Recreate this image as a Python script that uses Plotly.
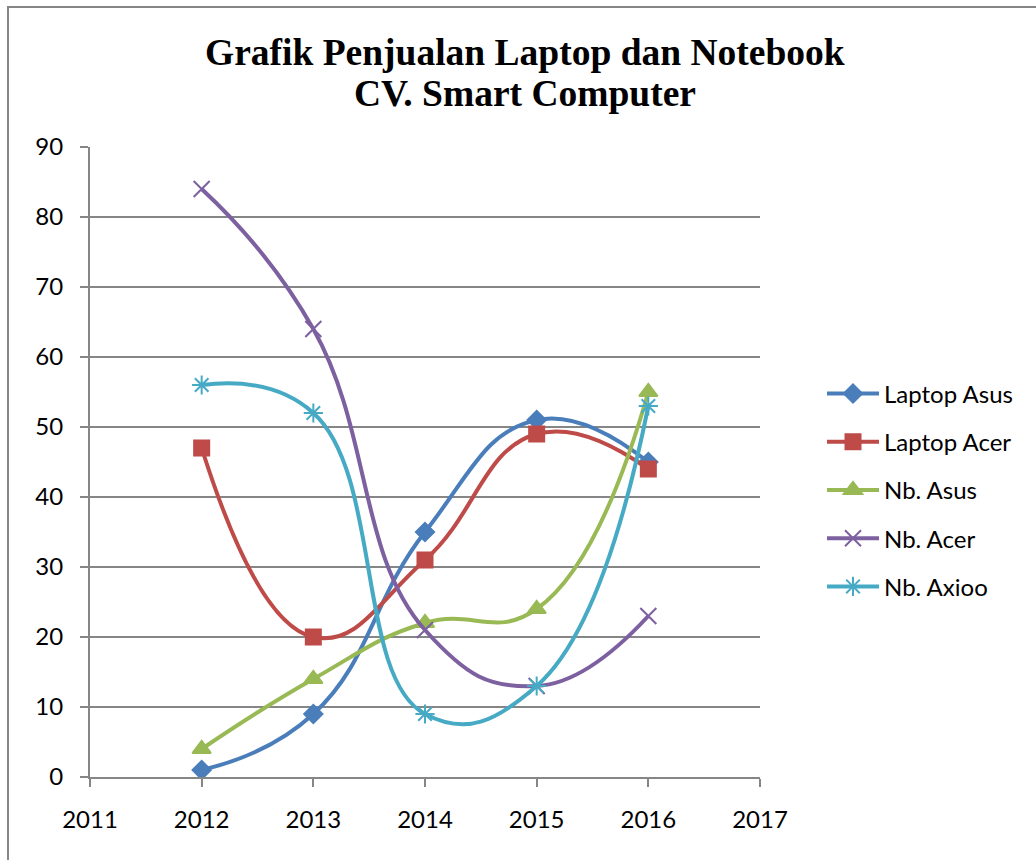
import plotly.graph_objects as go

years = [2012, 2013, 2014, 2015, 2016]
laptop_asus = [1, 9, 35, 51, 45]
laptop_acer = [47, 20, 31, 49, 44]
nb_asus = [4, 14, 22, 24, 55]
nb_acer = [84, 64, 21, 13, 23]
nb_axioo = [56, 52, 9, 13, 53]

title_lines = ["Grafik Penjualan Laptop dan Notebook", "CV. Smart Computer"]

series = [
    ("Laptop Asus", laptop_asus, "#4A7EBB", "diamond", 14),
    ("Laptop Acer", laptop_acer, "#BE4B48", "square", 15),
    ("Nb. Asus", nb_asus, "#98B954", "triangle-up", 16),
    ("Nb. Acer", nb_acer, "#7D60A0", "x-thin-open", 16),
    ("Nb. Axioo", nb_axioo, "#46AAC5", "asterisk-open", 16),
]

fig = go.Figure()
for name, vals, color, sym, size in series:
    fig.add_trace(go.Scatter(
        x=years, y=vals, name=name, mode="lines+markers",
        line=dict(color=color, width=4, shape="spline", smoothing=1.3),
        marker=dict(symbol=sym, size=size, color=color,
                    line=dict(color=color, width=2)),
        legendgroup=name,
    ))

W, H = 1036, 860
L, R, T, B = 90, 760, 147, 777
PW, PH = R - L, B - T


def px_x(p):
    return (p - L) / PW


def px_y(p):
    return (B - p) / PH


fig.update_layout(
    width=W, height=H,
    margin=dict(l=L, r=W - R, t=T, b=H - B, pad=0),
    paper_bgcolor="white", plot_bgcolor="white",
    font=dict(family="Lato", size=24, color="black"),
    showlegend=True,
    legend=dict(
        x=px_x(822), xanchor="left", y=px_y(490), yanchor="middle",
        traceorder="grouped", tracegroupgap=14, itemwidth=52,
        font=dict(family="Lato", size=24, color="black"),
        bgcolor="rgba(0,0,0,0)",
    ),
    xaxis=dict(
        range=[2011, 2017], tickmode="array", tickvals=list(range(2011, 2018)),
        ticktext=[str(v) for v in range(2011, 2018)],
        showgrid=False, zeroline=False, showline=True, linecolor="#868686", linewidth=2,
        ticks="outside", ticklen=8, tickwidth=2, tickcolor="#868686",
        ticklabelstandoff=12, tickfont=dict(family="Lato", size=24),
    ),
    yaxis=dict(
        range=[0, 90], tickmode="array", tickvals=list(range(0, 91, 10)),
        showgrid=True, gridcolor="#868686", gridwidth=2,
        zeroline=False, showline=True, linecolor="#868686", linewidth=2,
        ticks="outside", ticklen=8, tickwidth=2, tickcolor="#868686",
        ticklabelstandoff=12, tickfont=dict(family="Lato", size=24),
    ),
)

# title as two centred lines
for txt, yc in zip(title_lines, [52, 93]):
    fig.add_annotation(
        text=f"<b>{txt}</b>", xref="paper", yref="paper",
        x=px_x(525), y=px_y(yc), xanchor="center", yanchor="middle",
        showarrow=False,
        font=dict(family="Liberation Serif", size=37.5, color="black"),
    )

# outer chart border
fig.add_shape(type="rect", xref="paper", yref="paper",
              x0=px_x(8), x1=px_x(W + 20),
              y0=px_y(H + 20), y1=px_y(7),
              line=dict(color="#868686", width=2), fillcolor="rgba(0,0,0,0)",
              layer="above")

fig.write_html("out.html")
